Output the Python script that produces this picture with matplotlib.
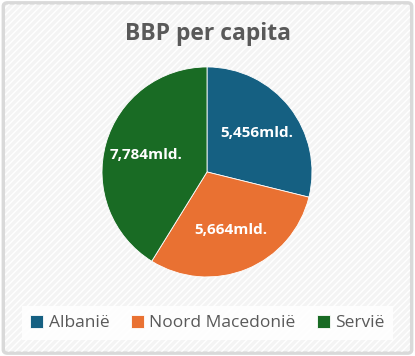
import numpy as np
import matplotlib.pyplot as plt
from matplotlib.patches import FancyBboxPatch
import matplotlib as mpl

landen = ["Albanië", "Noord Macedonië", "Servië"]
bbp = [5.456, 5.664, 7.784]
labels = ["5,456mld.", "5,664mld.", "7,784mld."]
kleuren = ["#156082", "#E97132", "#196B24"]

plt.rcParams["font.family"] = ["Open Sans", "DejaVu Sans"]
mpl.rcParams["hatch.linewidth"] = 1.0

fig = plt.figure(figsize=(4.15, 3.56), dpi=100)
fig.patch.set_facecolor("white")

# achtergrond met rand en streepjes
bg = FancyBboxPatch((0.008, 0.008), 0.984, 0.984, boxstyle="round,pad=0,rounding_size=0.01",
                    transform=fig.transFigure, facecolor="#F4F4F4", edgecolor="#D9D9D9",
                    linewidth=2.5, zorder=-2)
fig.patches.append(bg)
streep = FancyBboxPatch((0.012, 0.012), 0.976, 0.976, boxstyle="round,pad=0,rounding_size=0.01",
                        transform=fig.transFigure, facecolor="none", edgecolor="#FFFFFF",
                        linewidth=0, hatch="/////", zorder=-1)
fig.patches.append(streep)

ax = fig.add_axes([0.2458, 0.222, 0.506, 0.59])
ax.set_zorder(3)
ax.set_facecolor("none")
wedges, _ = ax.pie(bbp, colors=kleuren, startangle=90, counterclock=False,
                   wedgeprops=dict(edgecolor="white", linewidth=0.6))
for w, lab in zip(wedges, labels):
    hoek = np.deg2rad((w.theta1 + w.theta2) / 2)
    ax.text(0.6 * np.cos(hoek), 0.6 * np.sin(hoek), lab, ha="center", va="center",
            color="white", fontsize=11, fontweight="bold")
ax.set_xlim(-1, 1)
ax.set_ylim(-1, 1)

fig.text(0.5, 0.905, "BBP per capita", ha="center", va="center", fontsize=16.5,
         fontweight="bold", color="#595959", zorder=4)

leg = fig.legend(wedges, landen, loc="center", bbox_to_anchor=(0.5, 0.092), ncol=3,
                 frameon=True, fontsize=12.5, handlelength=0.75, handleheight=0.75,
                 handletextpad=0.3, columnspacing=1.25, borderpad=0.5, fancybox=False)
leg.set_zorder(5)
leg.get_frame().set_facecolor("white")
leg.get_frame().set_edgecolor("none")
leg.get_frame().set_alpha(0.85)
for t in leg.get_texts():
    t.set_color("#595959")

fig.savefig("out.png", dpi=100)
